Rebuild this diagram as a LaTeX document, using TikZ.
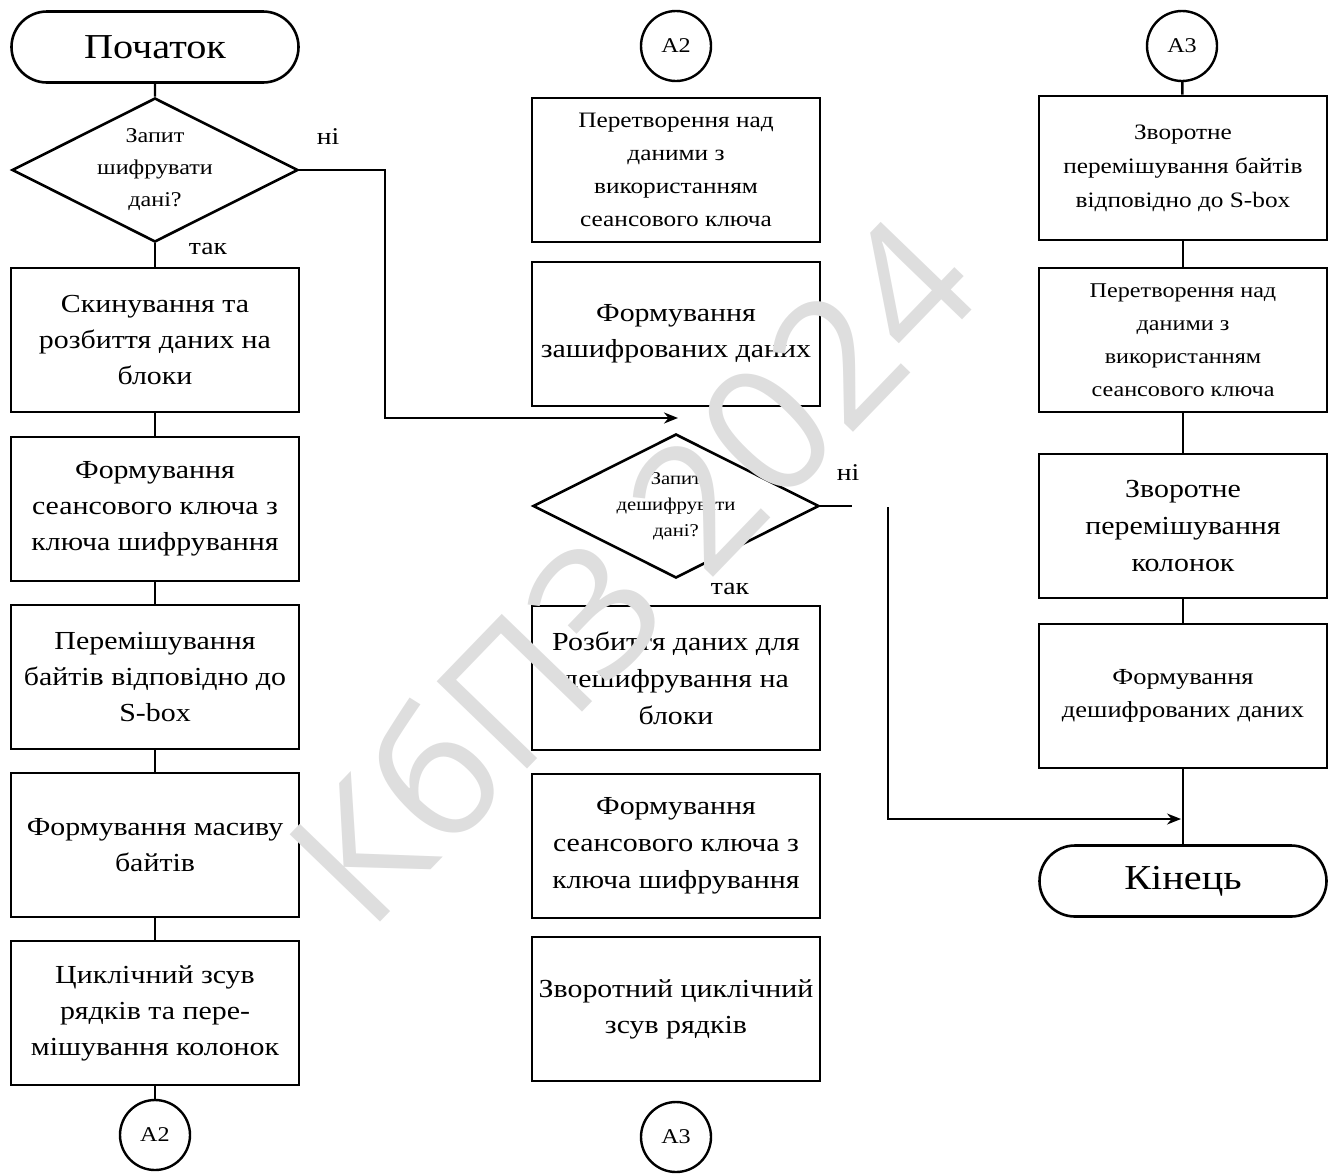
\documentclass[tikz,border=0pt]{standalone}
\usepackage{fontspec}
\setmainfont{Liberation Serif}[FakeStretch=1.15]
\newfontfamily\wmfont{Open Sans}
\usetikzlibrary{shapes.geometric,shapes.misc,arrows.meta}
\newcommand\fs[2]{\fontsize{#1}{#2}\selectfont}
\begin{document}
\begin{tikzpicture}[x=1pt,y=-1pt,
 proc/.style={draw, line width=2.8pt, minimum width=288pt, minimum height=144pt, inner sep=0pt, align=center},
 term/.style={draw, rounded rectangle, line width=2.6pt, minimum width=287pt, minimum height=71pt, inner sep=0pt, font=\fs{35}{40}},
 dec/.style={draw, diamond, aspect=2, line width=2.6pt, minimum width=286pt, minimum height=144pt, inner sep=0pt, align=center},
 conn/.style={draw, circle, line width=2.4pt, minimum size=70pt, inner sep=0pt, font=\fs{21}{24}},
 link/.style={line width=2.4pt},
 slim/.style={line width=1.5pt},
 lbl/.style={font=\fs{24}{28}, inner sep=0pt},
 tip/.style={-{Stealth[length=14pt,width=11pt]}}
]
\useasboundingbox (0,0) rectangle (1338,1173);

% left column
\node[term] (start) at (155,47) {Початок};
\node[dec, font=\fs{21}{32}] (d1) at (155,170) {Запит\\шифрувати\\дані?};
\node[proc, font=\fs{26}{36}] (b1) at (155,340) {Скинування та\\розбиття даних на\\блоки};
\node[proc, font=\fs{26}{36}] (b2) at (155,509) {Формування\\сеансового ключа з\\ключа шифрування};
\node[proc, font=\fs{26}{36}] (b3) at (155,677) {Перемішування\\байтів відповідно до\\S-box};
\node[proc, font=\fs{26}{36}] (b4) at (155,845) {Формування масиву\\байтів};
\node[proc, font=\fs{26}{36}] (b5) at (155,1013) {Циклічний зсув\\рядків та пере-\\мішування колонок};
\node[conn] (a2L) at (155,1135) {А2};

\draw[link] (start) -- (d1);
\draw[link] (d1) -- (b1);
\draw[link] (b1) -- (b2);
\draw[link] (b2) -- (b3);
\draw[link] (b3) -- (b4);
\draw[link] (b4) -- (b5);
\draw[link] (b5) -- (a2L);

\node[lbl] (niA) at (328,137) {ні};
\node[lbl] (takA) at (208,249) {так};

% middle column
\node[conn] (a2M) at (676,46) {А2};
\node[proc, font=\fs{22}{33}] (m1) at (676,170) {Перетворення над\\даними з\\використанням\\сеансового ключа};
\node[proc, font=\fs{26}{36}] (m2) at (676,334) {Формування\\зашифрованих даних};
\node[dec, font=\fs{18}{26}] (d2) at (676,506) {Запит\\дешифрувати\\дані?};
\node[proc, font=\fs{26}{37}] (m3) at (676,678) {Розбиття даних для\\дешифрування на\\блоки};
\node[proc, font=\fs{26}{37}] (m4) at (676,846) {Формування\\сеансового ключа з\\ключа шифрування};
\node[proc, font=\fs{26}{36}] (m5) at (676,1009) {Зворотний циклічний\\зсув рядків};
\node[conn] (a3M) at (676,1137) {А3};

\node[lbl] (niB) at (848,473) {ні};
\node[lbl] (takB) at (730,589) {так};

% right column
\node[conn] (a3R) at (1182,46) {А3};
\node[proc, font=\fs{22}{34}] (r1) at (1183,168) {Зворотне\\перемішування байтів\\відповідно до S-box};
\node[proc, font=\fs{21}{33}] (r2) at (1183,340) {Перетворення над\\даними з\\використанням\\сеансового ключа};
\node[proc, font=\fs{26}{37}] (r3) at (1183,526) {Зворотне\\перемішування\\колонок};
\node[proc, font=\fs{23}{33}] (r4) at (1183,696) {Формування\\дешифрованих даних};
\node[term] (end) at (1183,881) {Кінець};

\draw[link] (a3R) -- (r1);
\draw[link] (r1) -- (r2);
\draw[link] (r2) -- (r3);
\draw[link] (r3) -- (r4);
\draw[link] (r4) -- (end);

% "no" branches
\coordinate (bendA) at (385,418);
\coordinate (jm) at (678,418);
\draw[link, tip] (d1.east) -| (bendA) -- (jm);

\coordinate (nA) at (852,506);
\draw[slim] (d2.east) -- (nA);
\coordinate (nB) at (888,507);
\coordinate (jr) at (1181,819);
\draw[slim, tip] (nB) |- (jr);

% watermark
\node[text=black!13, font=\wmfont\fs{176}{176}, rotate=46, inner sep=0pt] (wmark) at (630,568) {КбПЗ 2024};
\end{tikzpicture}
\end{document}
